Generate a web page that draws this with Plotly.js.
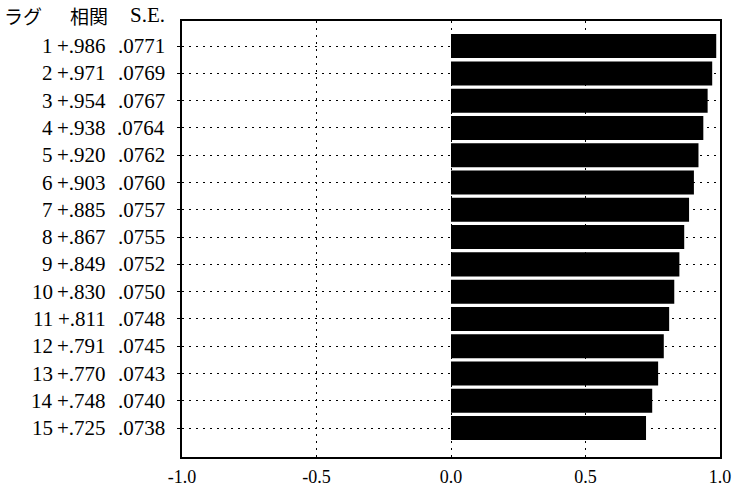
<!DOCTYPE html>
<html>
<head>
<meta charset="utf-8">
<script src="https://cdn.plot.ly/plotly-3.0.1.min.js"></script>
<style>html,body{margin:0;padding:0;background:#fff;}#chart{width:734px;height:489px;}</style>
</head>
<body>
<div id="chart"></div>
<script>
const lags = [1,2,3,4,5,6,7,8,9,10,11,12,13,14,15];
const corr = [0.986,0.971,0.954,0.938,0.920,0.903,0.885,0.867,0.849,0.830,0.811,0.791,0.770,0.748,0.725];
const se = [0.0771,0.0769,0.0767,0.0764,0.0762,0.0760,0.0757,0.0755,0.0752,0.0750,0.0748,0.0745,0.0743,0.0740,0.0738];
const xTickVals = [-1,-0.5,0,0.5,1];
const xTickText = ['-1.0','-0.5','0.0','0.5','1.0'];
const headers = ['ラグ','相関','S.E.'];

const serif = 'Liberation Serif, Times New Roman, serif';
const cjk = 'Noto Sans CJK JP, sans-serif';
const rowFont = {family: serif, size: 21, color: '#000'};

const annotations = [];
lags.forEach((lag, i) => {
  annotations.push({xref:'paper', yref:'y', x:0, y:lag, xanchor:'right', yanchor:'middle', xshift:-127, text:String(lag), showarrow:false, font:rowFont});
  annotations.push({xref:'paper', yref:'y', x:0, y:lag, xanchor:'right', yanchor:'middle', xshift:-74, text:(corr[i]>=0?'+':'-')+Math.abs(corr[i]).toFixed(3).slice(1), showarrow:false, font:rowFont});
  annotations.push({xref:'paper', yref:'y', x:0, y:lag, xanchor:'right', yanchor:'middle', xshift:-15, text:se[i].toFixed(4).slice(1), showarrow:false, font:rowFont});
});
annotations.push({xref:'paper', yref:'paper', x:0, y:1, xanchor:'left', yanchor:'middle', xshift:-180, yshift:6, text:headers[0], showarrow:false, font:{family:cjk, size:19, color:'#000'}});
annotations.push({xref:'paper', yref:'paper', x:0, y:1, xanchor:'right', yanchor:'middle', xshift:-72, yshift:6, text:headers[1], showarrow:false, font:{family:cjk, size:19, color:'#000'}});
annotations.push({xref:'paper', yref:'paper', x:0, y:1, xanchor:'right', yanchor:'middle', xshift:-15, yshift:6, text:headers[2], showarrow:false, font:rowFont});

const trace = {
  type:'bar', orientation:'h', x:corr, y:lags,
  marker:{color:'#000', line:{width:0}}, width:0.88, hoverinfo:'none'
};

const layout = {
  width:734, height:489,
  margin:{l:182, r:14, t:21, b:32, pad:0},
  paper_bgcolor:'#fff', plot_bgcolor:'#fff',
  showlegend:false,
  xaxis:{
    range:[-1,1], tickvals:xTickVals, ticktext:xTickText,
    showgrid:true, gridcolor:'#000', gridwidth:1, griddash:'2px,5px',
    zeroline:false, showline:true, mirror:true, linecolor:'#000', linewidth:2,
    ticks:'', tickfont:{family:serif, size:18, color:'#000'}, ticklabelstandoff:2
  },
  yaxis:{
    range:[16.06, 0.08], tickvals:lags, showticklabels:false,
    showgrid:true, gridcolor:'#000', gridwidth:1, griddash:'2px,5px',
    zeroline:false, showline:true, mirror:true, linecolor:'#000', linewidth:2,
    ticks:'outside', ticklen:3, tickcolor:'#000', tickwidth:1
  },
  annotations:annotations
};

Plotly.newPlot('chart', [trace], layout, {staticPlot:true, displayModeBar:false});
</script>
</body>
</html>
